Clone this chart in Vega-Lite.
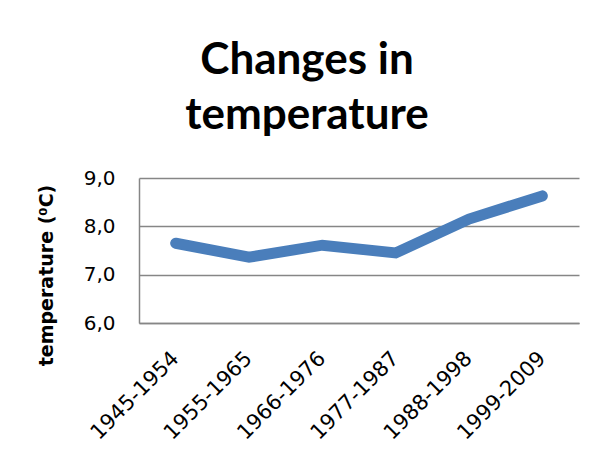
{
  "$schema": "https://vega.github.io/schema/vega-lite/v6.json",
  "autosize": {"type": "none"},
  "width": 440,
  "height": 145,
  "padding": {"left": 139, "top": 178, "right": 22, "bottom": 135},
  "background": "white",
  "title": {
    "text": ["Changes in", "temperature"],
    "font": "Lato",
    "fontSize": 44,
    "fontWeight": "bold",
    "color": "black",
    "lineHeight": 55,
    "anchor": "middle",
    "frame": "group",
    "dx": -52,
    "offset": 30
  },
  "data": {
    "values": [
      {"period": "1945-1954", "temp": 7.65},
      {"period": "1955-1965", "temp": 7.36},
      {"period": "1966-1976", "temp": 7.61},
      {"period": "1977-1987", "temp": 7.45},
      {"period": "1988-1998", "temp": 8.15},
      {"period": "1999-2009", "temp": 8.63}
    ]
  },
  "mark": {"type": "line", "color": "#4A7EBB", "strokeWidth": 11, "strokeCap": "round", "strokeJoin": "miter"},
  "encoding": {
    "x": {
      "field": "period",
      "type": "ordinal",
      "sort": null,
      "scale": {"type": "band", "paddingInner": 0, "paddingOuter": 0},
      "axis": {
        "title": null,
        "labelAngle": -45,
        "labelAlign": "right",
        "labelBaseline": "middle",
        "labelFont": "DejaVu Sans",
        "labelFontSize": 21,
        "labelColor": "black",
        "labelPadding": 32,
        "ticks": false,
        "domainColor": "#868686",
        "domainWidth": 1.5,
        "grid": false
      }
    },
    "y": {
      "field": "temp",
      "type": "quantitative",
      "scale": {"domain": [6, 9]},
      "axis": {
        "title": "temperature (⁰C)",
        "titleFont": "DejaVu Sans",
        "titleFontSize": 19,
        "titleFontWeight": "bold",
        "titleColor": "black",
        "titlePadding": 27,
        "titleY": 97,
        "values": [6, 7, 8, 9],
        "labelExpr": "replace(format(datum.value, '.1f'), '.', ',')",
        "labelFont": "DejaVu Sans",
        "labelFontSize": 20,
        "labelColor": "black",
        "labelPadding": 24,
        "ticks": false,
        "domainColor": "#868686",
        "domainWidth": 1.5,
        "gridColor": "#868686",
        "gridWidth": 1.5,
        "gridOpacity": 1
      }
    }
  },
  "config": {"view": {"stroke": null}}
}
